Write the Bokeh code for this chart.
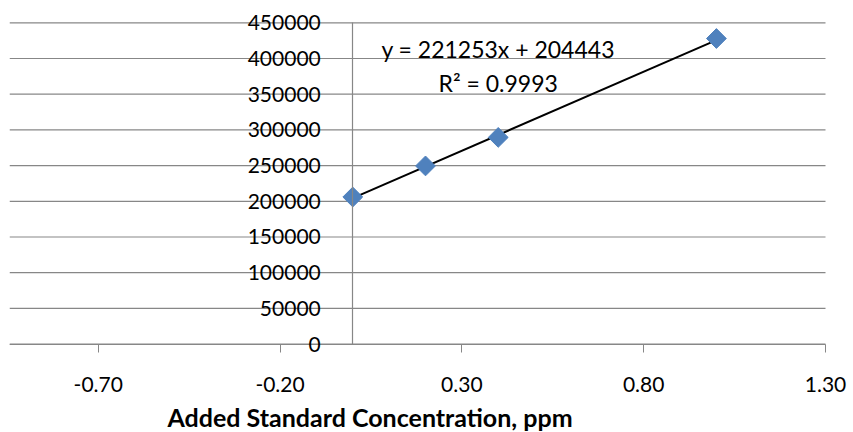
import numpy as np
from bokeh.plotting import figure
from bokeh.models import (Range1d, FixedTicker, NumeralTickFormatter, Label, Title)
from bokeh.embed import file_html
from bokeh.resources import INLINE

# data
conc = [0.0, 0.2, 0.4, 1.0]
signal = [206000, 249500, 289500, 428000]
x_ticks = [-0.70, -0.20, 0.30, 0.80, 1.30]
y_ticks = [0, 50000, 100000, 150000, 200000, 250000, 300000, 350000, 400000, 450000]
x_axis_min = -0.944
trend_slope = 221253
trend_intercept = 204443
trend_r2 = 0.9993
x_title = "Added Standard Concentration, ppm"

FONT = "Lato"
GRID = "#878787"

# view window (slightly larger than the axes so that tick labels are not clipped)
x_view = (x_axis_min, 1.366)
y_view = (-76260, 470050)

p = figure(width=853, height=432, output_backend="svg", toolbar_location=None,
           x_range=Range1d(*x_view), y_range=Range1d(*y_view),
           min_border_left=9, min_border_right=4, min_border_top=8, min_border_bottom=34)
p.outline_line_color = None
p.background_fill_color = "white"
p.border_fill_color = "white"
p.xgrid.grid_line_color = None
p.ygrid.grid_line_color = None

# horizontal gridlines limited to the axis extent
n = len(y_ticks)
p.segment(x0=[x_axis_min] * n, x1=[x_ticks[-1]] * n, y0=y_ticks, y1=y_ticks,
          line_color=GRID, line_width=1.2, level="underlay")

# x axis at y = 0
xa = p.xaxis[0]
xa.fixed_location = 0
xa.bounds = (x_axis_min, x_ticks[-1])
xa.ticker = FixedTicker(ticks=x_ticks)
xa.formatter = NumeralTickFormatter(format="0.00")
xa.axis_line_color = GRID
xa.axis_line_width = 1.2
xa.major_tick_line_color = GRID
xa.major_tick_in = 0
xa.major_tick_out = 8
xa.minor_tick_line_color = None
xa.major_label_text_font = FONT
xa.major_label_text_font_size = "21px"
xa.major_label_text_color = "black"
xa.major_label_standoff = 25

# y axis at x = 0
ya = p.yaxis[0]
ya.fixed_location = 0
ya.bounds = (y_ticks[0], y_ticks[-1])
ya.ticker = FixedTicker(ticks=y_ticks)
ya.formatter = NumeralTickFormatter(format="0")
ya.axis_line_color = GRID
ya.axis_line_width = 1.2
ya.major_tick_line_color = None
ya.minor_tick_line_color = None
ya.major_label_text_font = FONT
ya.major_label_text_font_size = "21px"
ya.major_label_text_color = "black"
ya.major_label_standoff = 26

# trendline
tx = np.array([min(conc), max(conc)])
ty = trend_slope * tx + trend_intercept
p.line(tx, ty, line_color="black", line_width=2)

# points
p.scatter(conc, signal, marker="square", angle=np.pi / 4, size=14,
          fill_color="#4F81BD", line_color="#4F81BD")

# equation labels
eq_x = float(np.mean(conc))
p.add_layout(Label(x=eq_x, y=414000, text=f"y = {trend_slope}x + {trend_intercept}",
                   text_align="center", text_baseline="middle",
                   text_font=FONT, text_font_size="23px", text_color="black"))
p.add_layout(Label(x=eq_x, y=365000, text=f"R² = {trend_r2:.4f}",
                   text_align="center", text_baseline="middle",
                   text_font=FONT, text_font_size="23px", text_color="black"))

t = Title(text=x_title, align="left", offset=158, standoff=2, text_font=FONT,
          text_font_size="25px", text_font_style="bold", text_color="black")
p.add_layout(t, "below")

open("out.html", "w").write(file_html(p, INLINE))
